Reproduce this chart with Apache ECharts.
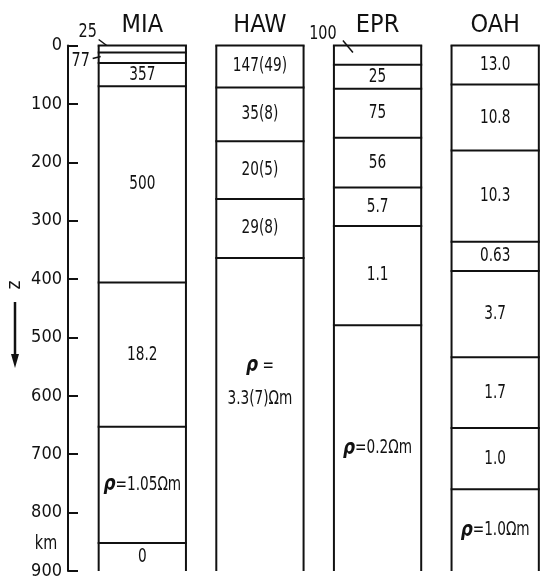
<!DOCTYPE html>
<html>
<head>
<meta charset="utf-8">
<script src="https://cdn.jsdelivr.net/npm/echarts@6/dist/echarts.min.js"></script>
<style>
  html, body { margin: 0; padding: 0; background: #fff; }
  #chart { width: 554px; height: 580px; }
</style>
</head>
<body>
<div id="chart"></div>
<script>
// Layered resistivity models: boundaries in km, resistivity per layer in Ωm
const sites = ['MIA', 'HAW', 'EPR', 'OAH'];

const miaDepths = [0, 12, 30, 70, 406, 653, 852, 900];
const miaRho    = ['25', '77', '357', '500', '18.2', '1.05', '0'];

const hawDepths = [0, 72, 164, 263, 364, 900];
const hawRho    = ['147(49)', '35(8)', '20(5)', '29(8)', '3.3(7)'];

const eprDepths = [0, 33, 74, 158, 243, 309, 479, 900];
const eprRho    = ['100', '25', '75', '56', '5.7', '1.1', '0.2'];

const oahDepths = [0, 67, 180, 336, 386, 534, 655, 760, 900];
const oahRho    = ['13.0', '10.8', '10.3', '0.63', '3.7', '1.7', '1.0', '1.0'];

const depthMin = 0, depthMax = 900, depthStep = 100;

// Which layer carries the "ρ = … Ωm" caption in each column
const captionLayer = [5, 4, 6, 7];
// Layers too thin for an inside label: value written beside the column
const calloutLayers = { MIA: [0, 1], EPR: [0] };

const FONT = "'DejaVu Sans Condensed', 'DejaVu Sans', sans-serif";
const INK = '#111';
const NARROW = 0.8;   // horizontal squeeze for the condensed lettering

const models = [
  [miaDepths, miaRho],
  [hawDepths, hawRho],
  [eprDepths, eprRho],
  [oahDepths, oahRho]
];

// one row per layer: [site index, top, bottom, layer index]
const layerRows = [];
models.forEach(([depths, rho], s) => {
  rho.forEach((_, i) => layerRows.push([s, depths[i], depths[i + 1], i]));
});

function labelFor(s, i) {
  const v = models[s][1][i];
  if (i !== captionLayer[s]) return v;
  if (sites[s] === 'HAW') return '{rho|ρ} =\n' + v + 'Ωm';
  return '{rho|ρ}=' + v + '{om|Ω}m';
}

// placement of values written outside thin layers (relative to column edge / layer top)
const calloutStyle = {
  'MIA-0': { tx: -11, ty: -14, line: [[0, -6], [8, 0]] },
  'MIA-1': { tx: -18, ty: 8,   line: [[-6, 6], [2, 4]] },
  'EPR-0': { tx: -11, ty: -12, line: [[9, -5], [19, 7]] }
};

const textBase = { fill: INK, align: 'center', verticalAlign: 'middle', fontSize: 19, fontFamily: FONT };

function renderLayer(params, api) {
  const s = api.value(0), top = api.value(1), bot = api.value(2), li = api.value(3);
  const pTop = api.coord([s, top]);
  const pBot = api.coord([s, bot]);
  const w = api.size([1, 0])[0] * 0.742;
  const xL = pTop[0] - w / 2, xR = pTop[0] + w / 2;
  const lineStyle = { stroke: INK, lineWidth: 2 };
  const children = [
    { type: 'line', shape: { x1: xL - 1, y1: pTop[1], x2: xR + 1, y2: pTop[1] }, style: lineStyle },
    { type: 'line', shape: { x1: xL, y1: pTop[1], x2: xL, y2: pBot[1] }, style: lineStyle },
    { type: 'line', shape: { x1: xR, y1: pTop[1], x2: xR, y2: pBot[1] }, style: lineStyle }
  ];
  const key = sites[s] + '-' + li;
  const isCallout = (calloutLayers[sites[s]] || []).indexOf(li) >= 0;
  if (isCallout) {
    const c = calloutStyle[key];
    children.push({
      type: 'text', x: xL + c.tx, y: pTop[1] + c.ty, scaleX: NARROW,
      style: Object.assign({}, textBase, { text: models[s][1][li], fontSize: 20 })
    });
    children.push({
      type: 'line',
      shape: { x1: xL + c.line[0][0], y1: pTop[1] + c.line[0][1], x2: xL + c.line[1][0], y2: pTop[1] + c.line[1][1] },
      style: { stroke: INK, lineWidth: 1.5 }
    });
  } else {
    const twoLine = sites[s] === 'HAW' && li === captionLayer[s];
    children.push({
      type: 'text', x: pTop[0], y: (pTop[1] + pBot[1]) / 2 + (twoLine ? -32 : 0), scaleX: NARROW,
      style: Object.assign({}, textBase, {
        text: labelFor(s, li), lineHeight: 33,
        rich: {
          rho: { fontSize: 21, fontStyle: 'italic', fontWeight: 'bold', fontFamily: "'DejaVu Sans', sans-serif", fill: INK },
          om: { fontSize: 19, fontFamily: FONT, fill: INK }
        }
      })
    });
  }
  return { type: 'group', children };
}

const chart = echarts.init(document.getElementById('chart'), null, { renderer: 'canvas' });
chart.setOption({
  animation: false,
  backgroundColor: '#fff',
  grid: { left: 83.5, top: 45.5, width: 478, height: 528.5 },
  xAxis: {
    type: 'category', data: sites, position: 'top', boundaryGap: true,
    axisLine: { show: false }, axisTick: { show: false }, splitLine: { show: false },
    axisLabel: { color: INK, fontSize: 25, fontFamily: FONT, margin: 8 }
  },
  yAxis: {
    type: 'value', inverse: true, min: depthMin, max: depthMax, interval: depthStep, offset: 15.5,
    axisLine: { show: true, lineStyle: { color: INK, width: 2 } },
    axisTick: { show: true, inside: true, length: 10, lineStyle: { color: INK, width: 2 } },
    splitLine: { show: false },
    axisLabel: { color: INK, fontSize: 18, fontFamily: FONT, margin: 6, showMinLabel: true, showMaxLabel: true }
  },
  series: [{
    type: 'custom',
    renderItem: renderLayer,
    data: layerRows,
    encode: { x: 0, y: [1, 2] },
    clip: false,
    silent: true
  }],
  graphic: [
    { type: 'text', x: 15, y: 285, rotation: Math.PI / 2,
      style: { text: 'z', fill: INK, font: '19px ' + FONT, align: 'center', verticalAlign: 'middle' } },
    { type: 'line', shape: { x1: 15, y1: 302, x2: 15, y2: 356 }, style: { stroke: INK, lineWidth: 2.5 } },
    { type: 'polygon', shape: { points: [[11, 354], [19, 354], [15, 368]] }, style: { fill: INK } },
    { type: 'text', x: 46, y: 544, scaleX: NARROW,
      style: { text: 'km', fill: INK, font: '20px ' + FONT, align: 'center', verticalAlign: 'middle' } }
  ]
});
</script>
</body>
</html>
